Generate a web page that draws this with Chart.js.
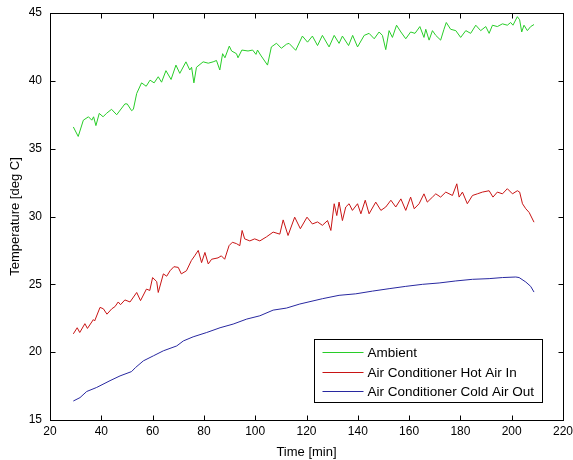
<!DOCTYPE html>
<html><head><meta charset="utf-8">
<script src="https://cdn.jsdelivr.net/npm/chart.js@4"></script>
<style>html,body{margin:0;padding:0;background:#fff;overflow:hidden}canvas{display:block}</style>
</head><body>
<canvas id="c" width="573" height="460"></canvas>
<script>
const seriesNames = ['Ambient', 'Air Conditioner Hot Air In', 'Air Conditioner Cold Air Out'];
const seriesColors = ['rgb(40,205,40)', 'rgb(200,20,20)', 'rgb(40,40,160)'];
const xTickValues = [20, 40, 60, 80, 100, 120, 140, 160, 180, 200, 220];
const yTickValues = [15, 20, 25, 30, 35, 40, 45];
const xAxisTitle = 'Time [min]';
const yAxisTitle = 'Temperature [deg C]';

const ambientTime = [29.1,31.0,33.0,35.0,36.3,37.0,37.9,39.2,40.7,42.0,44.0,46.0,49.2,50.1,51.8,52.5,53.8,55.7,57.5,59.0,60.6,62.2,63.5,65.2,67.2,69.1,70.6,73.0,74.5,75.2,76.1,77.1,79.7,81.7,83.6,84.9,86.2,87.3,88.2,89.9,90.8,92.7,93.3,94.8,97.2,99.0,100.3,100.9,102.1,104.8,106.3,108.3,110.2,112.2,113.2,115.8,118.4,120.4,122.3,124.3,126.2,128.8,130.8,132.7,134.0,136.4,138.0,139.9,142.5,144.4,146.4,148.3,149.6,150.9,152.2,153.5,155.1,156.8,158.7,160.6,162.3,164.2,165.8,166.5,167.8,169.1,170.4,172.3,173.6,174.5,176.2,178.2,180.1,182.1,184.0,186.0,187.9,189.9,191.2,192.5,194.4,196.4,198.3,199.6,200.5,202.2,203.1,203.9,204.8,206.1,207.4,208.7];
const ambientTemp = [36.6,35.9,37.1,37.35,37.1,37.35,36.7,37.6,37.35,37.6,37.9,37.5,38.3,38.3,37.8,37.9,39.07,39.85,39.6,40.05,39.85,40.3,39.9,40.75,40.1,41.16,40.55,41.4,40.8,41.0,39.85,41.0,41.4,41.3,41.4,41.5,40.8,42.0,41.7,42.56,42.2,42.0,41.7,42.27,42.2,42.27,41.95,42.27,41.9,41.16,42.5,42.77,42.4,42.7,42.76,42.25,43.3,42.85,43.3,42.6,43.35,42.5,43.35,42.76,43.3,42.6,43.35,42.5,43.35,43.5,43.1,43.6,43.35,42.3,43.7,43.2,44.1,43.6,43.1,43.6,43.5,44.0,43.2,43.8,43.0,43.7,43.35,43.0,43.8,44.3,43.8,43.7,43.2,43.7,43.5,44.1,43.7,44.0,43.5,44.1,44.0,44.2,44.1,44.3,44.1,44.73,44.5,43.6,44.1,43.7,44.0,44.15];

const hotAirTime = [29.1,30.6,31.6,33.6,34.6,36.9,37.4,39.5,40.8,42.2,44.1,45.3,46.6,47.5,49.2,51.2,53.8,55.3,57.6,58.9,60.0,61.6,62.2,64.2,65.5,66.8,68.3,70.0,71.2,73.2,75.1,76.4,77.8,79.1,80.4,81.7,83.0,85.5,86.8,88.1,89.8,91.1,92.7,94.0,94.9,95.9,97.9,99.8,101.8,104.4,107.0,109.6,110.9,112.8,115.4,117.6,120.2,122.3,124.3,126.2,128.2,129.5,130.8,131.8,132.7,134.0,135.3,136.6,137.9,139.9,141.2,142.9,144.4,147.0,149.0,150.9,152.9,154.8,156.8,158.7,160.6,162.0,163.9,165.8,167.1,169.1,170.4,172.3,174.3,176.9,178.6,179.5,180.8,182.7,184.7,186.6,188.6,191.2,192.7,194.4,196.4,198.3,200.3,202.2,203.1,204.2,205.5,206.8,208.7];
const hotAirTemp = [21.35,21.8,21.45,22.1,21.75,22.4,22.3,23.3,23.2,22.8,23.2,23.35,23.7,23.5,23.85,23.7,24.4,23.8,24.65,24.55,25.5,25.2,24.4,25.77,25.6,26.0,26.3,26.25,25.77,26.0,26.75,27.1,27.5,26.6,27.35,26.5,26.85,26.95,27.1,26.85,27.85,28.1,28.0,27.85,28.97,28.35,28.2,28.35,28.2,28.5,28.85,28.7,29.75,28.6,29.95,29.1,29.95,29.45,29.6,29.35,29.7,28.97,30.94,30.07,31.06,29.7,30.7,30.94,30.45,30.94,30.2,31.2,30.2,31.06,30.45,30.7,31.2,30.7,31.3,30.45,31.43,30.57,30.94,31.67,31.06,31.43,31.67,31.43,31.8,31.55,32.41,31.43,31.8,30.94,31.55,31.67,31.8,31.9,31.43,31.8,31.67,32.05,31.67,31.9,31.8,30.94,30.57,30.3,29.58];

const coldAirTime = [29.1,31.7,34.3,38.2,43.4,47.3,51.8,53.3,56.4,60.3,64.2,69.4,72.0,75.8,81.1,86.3,91.4,96.7,101.8,107.0,112.2,117.4,126.2,132.7,139.2,145.7,152.2,158.7,165.2,171.7,178.2,184.7,191.2,196.4,201.6,202.9,205.5,207.4,208.7];
const coldAirTemp = [16.4,16.65,17.1,17.4,17.9,18.25,18.57,18.86,19.36,19.73,20.1,20.46,20.83,21.13,21.45,21.8,22.07,22.44,22.68,23.1,23.25,23.55,23.94,24.19,24.3,24.5,24.68,24.85,25.0,25.1,25.25,25.37,25.42,25.5,25.54,25.5,25.17,24.85,24.43];

const FONT = 'Liberation Sans, Arial, Helvetica, sans-serif';
Chart.defaults.font.family = FONT;
Chart.defaults.color = '#000';

function pairs(ts, vs) { return ts.map((t, i) => ({ x: t, y: vs[i] })); }

const seriesData = [pairs(ambientTime, ambientTemp), pairs(hotAirTime, hotAirTemp), pairs(coldAirTime, coldAirTemp)];

const framePlugin = {
  id: 'matlabFrame',
  afterDraw(chart) {
    const ctx = chart.ctx;
    const a = chart.chartArea;
    const xs = chart.scales.x, ys = chart.scales.y;
    const L = Math.round(a.left) + 0.5, R = Math.round(a.right) + 0.5;
    const T = Math.round(a.top) + 0.5, B = Math.round(a.bottom) + 0.5;
    ctx.save();
    ctx.strokeStyle = '#000';
    ctx.lineWidth = 1;
    ctx.strokeRect(L, T, R - L, B - T);
    const tl = 5;
    ctx.beginPath();
    xTickValues.forEach(v => {
      const p = Math.round(xs.getPixelForValue(v)) + 0.5;
      ctx.moveTo(p, B); ctx.lineTo(p, B - tl);
      ctx.moveTo(p, T); ctx.lineTo(p, T + tl);
    });
    yTickValues.forEach(v => {
      const p = Math.round(ys.getPixelForValue(v)) + 0.5;
      ctx.moveTo(L, p); ctx.lineTo(L + tl, p);
      ctx.moveTo(R, p); ctx.lineTo(R - tl, p);
    });
    ctx.stroke();

    // legend box inside plot, lower right
    const ds = chart.data.datasets;
    ctx.font = '13.5px ' + FONT;
    const textW = Math.max(...ds.map(d => ctx.measureText(d.label).width));
    const lineLen = 41, pad = 8, gap = 4, rowH = 19.5;
    const boxW = Math.round(pad + lineLen + gap + textW + 8);
    const boxH = 63;
    const bx = Math.round(a.right - 21 - boxW) + 0.5;
    const by = Math.round(a.bottom - 18 - boxH) + 0.5;
    ctx.fillStyle = '#fff';
    ctx.fillRect(bx, by, boxW, boxH);
    ctx.strokeStyle = '#000';
    ctx.strokeRect(bx, by, boxW, boxH);
    ctx.textBaseline = 'middle';
    ctx.textAlign = 'left';
    ds.forEach((d, i) => {
      const yy = Math.round(by + 12.5 + i * rowH) + 0.5;
      ctx.strokeStyle = d.borderColor;
      ctx.beginPath();
      ctx.moveTo(bx + pad, yy); ctx.lineTo(bx + pad + lineLen, yy);
      ctx.stroke();
      ctx.fillStyle = '#000';
      ctx.fillText(d.label, bx + pad + lineLen + gap, yy + 1);
    });
    ctx.restore();
  }
};

new Chart(document.getElementById('c'), {
  type: 'line',
  data: {
    datasets: seriesNames.map((n, i) => ({
      label: n,
      data: seriesData[i],
      borderColor: seriesColors[i],
      backgroundColor: seriesColors[i],
      borderWidth: 1,
      pointRadius: 0,
      tension: 0,
      fill: false
    }))
  },
  options: {
    responsive: false,
    animation: false,
    devicePixelRatio: 1,
    layout: { padding: { top: 13, right: 10, left: 0, bottom: 0 } },
    plugins: { legend: { display: false }, tooltip: { enabled: false } },
    scales: {
      x: {
        type: 'linear', min: 20, max: 220,
        afterBuildTicks: s => { s.ticks = xTickValues.map(v => ({ value: v })); },
        ticks: { font: { size: 12 }, color: '#000', padding: 4, maxRotation: 0, autoSkip: false },
        grid: { display: false, drawTicks: false },
        border: { display: false },
        title: { display: true, text: xAxisTitle, font: { size: 13 }, color: '#000', padding: { top: 0, bottom: 0 } },
        afterFit: s => { s.height = 40; s.paddingLeft = 0; s.paddingRight = 0; }
      },
      y: {
        type: 'linear', min: 15, max: 45,
        afterBuildTicks: s => { s.ticks = yTickValues.map(v => ({ value: v })); },
        ticks: { font: { size: 12 }, color: '#000', padding: 8 },
        grid: { display: false, drawTicks: false },
        border: { display: false },
        title: { display: true, text: yAxisTitle, font: { size: 13 }, color: '#000', padding: { top: 8, bottom: 8 } },
        afterFit: s => { s.width = 50; s.paddingTop = 0; s.paddingBottom = 0; }
      }
    }
  },
  plugins: [framePlugin]
});
</script>
</body></html>
